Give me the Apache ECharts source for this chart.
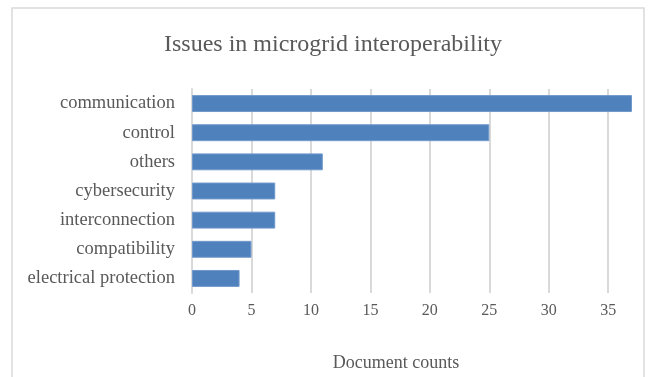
<!DOCTYPE html>
<html>
<head>
<meta charset="utf-8">
<script src="https://cdn.jsdelivr.net/npm/echarts@6/dist/echarts.min.js"></script>
<style>
  html, body { margin: 0; padding: 0; background: #fff; }
  #chart { width: 651px; height: 377px; }
</style>
</head>
<body>
<div id="chart"></div>
<script>
const categories = ['communication', 'control', 'others', 'cybersecurity', 'interconnection', 'compatibility', 'electrical protection'];
const counts = [37, 25, 11, 7, 7, 5, 4];

const serif = '"Liberation Serif", "Times New Roman", serif';
const textColor = '#595959';
const gridColor = '#d9d9d9';

const chart = echarts.init(document.getElementById('chart'), null, { renderer: 'canvas' });

const option = {
    animation: false,
    title: [
        {
            text: 'Issues in microgrid interoperability',
            left: 328,
            top: 28,
            textAlign: 'center',
            textStyle: { fontFamily: serif, fontSize: 24, fontWeight: 'normal', color: textColor },
        },
        {
            text: 'Document counts',
            left: 391,
            top: 349,
            textAlign: 'center',
            textStyle: { fontFamily: serif, fontSize: 18, fontWeight: 'normal', color: textColor },
        },
    ],
    graphic: [
        {
            type: 'rect',
            shape: { x: 12, y: 8, width: 632, height: 400 },
            style: { fill: 'none', stroke: gridColor, lineWidth: 1.5 },
            silent: true,
        },
    ],
    grid: { left: 192, right: 19, top: 89, bottom: 84 },
    xAxis: {
        type: 'value',
        min: 0,
        max: 37,
        interval: 5,
        axisLine: { show: false },
        axisTick: { show: false },
        axisLabel: {
            fontFamily: serif,
            fontSize: 16,
            color: textColor,
            margin: 10,
            showMaxLabel: false,
            formatter: (v) => (v % 5 === 0 ? String(v) : ''),
        },
        splitLine: { show: true, showMaxLine: false, lineStyle: { color: gridColor, width: 2 } },
    },
    yAxis: {
        type: 'category',
        inverse: true,
        data: categories,
        axisLine: { show: true, lineStyle: { color: gridColor, width: 2 } },
        axisTick: { show: false },
        axisLabel: { fontFamily: serif, fontSize: 18.5, color: textColor, margin: 17 },
    },
    series: [
        {
            type: 'bar',
            data: counts,
            barWidth: '58%',
            itemStyle: { color: '#4f81bd', borderColor: '#7199cb', borderWidth: 1 },
        },
    ],
};

chart.setOption(option);
</script>
</body>
</html>
